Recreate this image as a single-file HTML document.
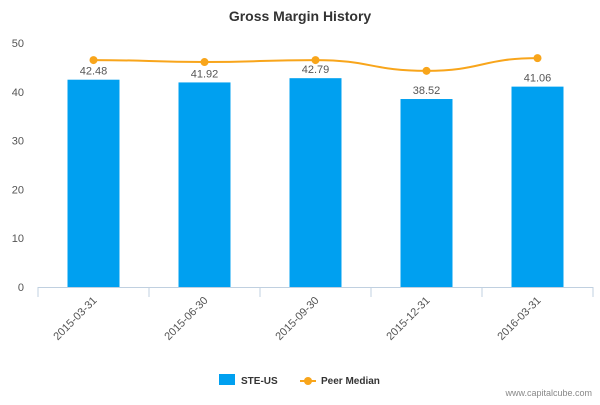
<!DOCTYPE html>
<html><head><meta charset="utf-8"><style>
body{margin:0;background:#fff;font-family:"Liberation Sans",sans-serif}
svg text{font-family:"Liberation Sans",sans-serif}
</style></head><body>
<svg width="600" height="400">
<text x="300" y="21" text-anchor="middle" font-size="14" font-weight="bold" fill="#333">Gross Margin History</text>
<g id="yaxis"></g>
<g id="bars"></g>
<g id="line"></g>
<g id="xaxis"></g>
<g>
<rect x="219" y="374" width="16" height="11" fill="#00a0f0"/>
<text x="241" y="384" font-size="10" font-weight="bold" fill="#333">STE-US</text>
<line x1="300" y1="381" x2="316" y2="381" stroke="#f8a51b" stroke-width="2"/>
<circle cx="308" cy="381" r="4" fill="#f8a51b"/>
<text x="321" y="384" font-size="10" font-weight="bold" fill="#333">Peer Median</text>
</g>
<text x="592" y="396" text-anchor="end" font-size="9" fill="#888">www.capitalcube.com</text>
</svg>
<script>
const categories=["2015-03-31","2015-06-30","2015-09-30","2015-12-31","2016-03-31"];
const steValues=[42.48,41.92,42.79,38.52,41.06];
const peerValues=[46.5,46.1,46.5,44.3,46.9];
const yTicks=[0,10,20,30,40,50];
const NS="http://www.w3.org/2000/svg";
const x0=38,x1=593,yBase=287,pxPerUnit=4.88;
const bw=(x1-x0)/categories.length;
const xC=i=>x0+bw*(i+0.5);
const yS=v=>yBase-v*pxPerUnit;
function mk(t,a,p){const e=document.createElementNS(NS,t);for(const k in a)e.setAttribute(k,a[k]);p.appendChild(e);return e;}
const ya=document.getElementById('yaxis');
yTicks.forEach(t=>{const e=mk('text',{x:24,y:yS(t)+4,'text-anchor':'end','font-size':11,fill:'#555'},ya);e.textContent=t;

});
const bg=document.getElementById('bars');
steValues.forEach((v,i)=>{const r=mk('rect',{x:xC(i)-26,y:yS(v),width:52,height:v*pxPerUnit,fill:'#00a0f0'},bg);


const t=mk('text',{x:xC(i),y:yS(v)-5,'text-anchor':'middle','font-size':11,fill:'#555'},bg);t.textContent=v.toFixed(2);

});
const lg=document.getElementById('line');
const pts=peerValues.map((v,i)=>[xC(i),yS(v)]);
let d='M'+pts[0][0]+','+pts[0][1];
for(let i=1;i<pts.length;i++){const p=pts[i-1],q=pts[i],c=(q[0]-p[0])/2;d+=` C${p[0]+c},${p[1]} ${q[0]-c},${q[1]} ${q[0]},${q[1]}`;}
const pl=mk('path',{d:d,fill:'none',stroke:'#f8a51b','stroke-width':2},lg);


pts.forEach((p,i)=>{const c=mk('circle',{cx:p[0],cy:p[1],r:4,fill:'#f8a51b'},lg);

});
const xa=document.getElementById('xaxis');
const al=mk('line',{x1:x0,y1:yBase+0.5,x2:x1,y2:yBase+0.5,stroke:'#c0d0e0'},xa);


for(let i=0;i<=categories.length;i++){const l=mk('line',{x1:x0+bw*i,y1:yBase,x2:x0+bw*i,y2:yBase+10,stroke:'#c0d0e0'},xa);

}
categories.forEach((c,i)=>{const x=xC(i)+4,y=yBase+14;const t=mk('text',{x:x,y:y,'text-anchor':'end','font-size':11,fill:'#555',transform:`rotate(-45 ${x} ${y})`},xa);t.textContent=c;

});
</script>
</body></html>
